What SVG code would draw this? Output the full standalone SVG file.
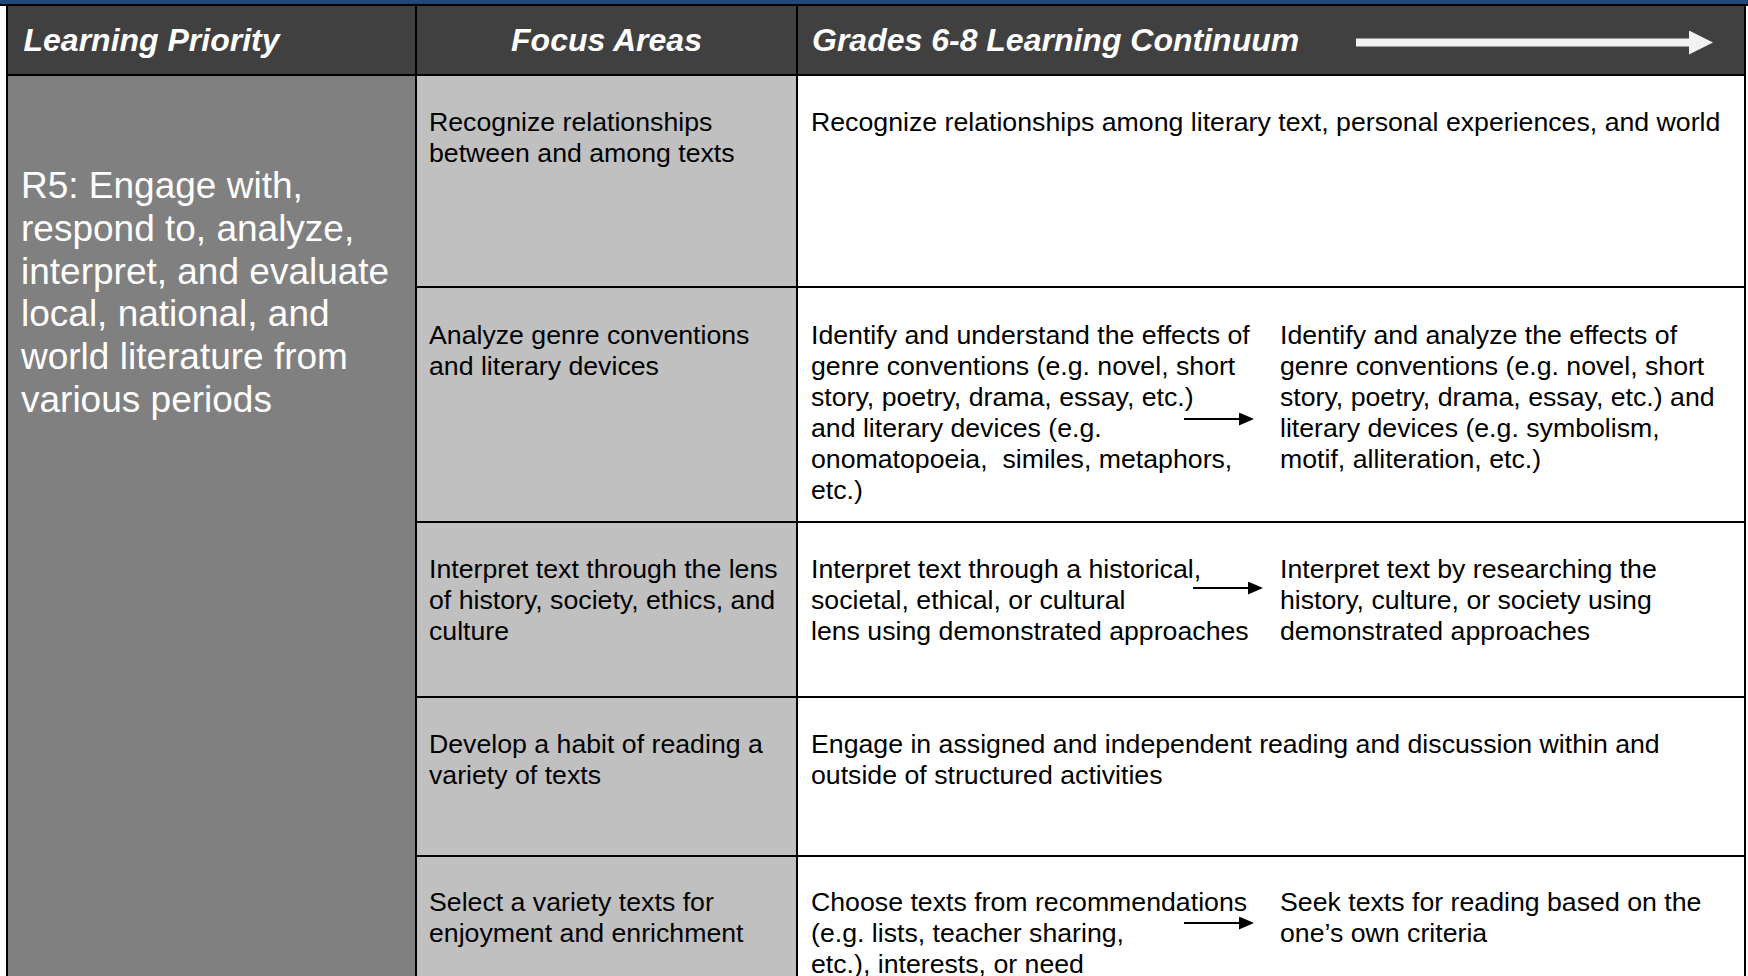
<svg xmlns="http://www.w3.org/2000/svg" width="1748" height="976" viewBox="0 0 1748 976">
<style>
  .hdr { font-family: "Liberation Sans", Arial, sans-serif; font-size: 32px; font-weight: bold; font-style: italic; fill: #FFFFFF; }
  .lp { font-family: "Liberation Sans", Arial, sans-serif; font-size: 37px; fill: #FFFFFF; }
  .body { font-family: "Liberation Sans", Arial, sans-serif; font-size: 26.7px; fill: #000000; }
  .grid { stroke: #000000; stroke-width: 2; fill: none; }
  .conn { stroke: #000000; stroke-width: 2; fill: none; }
  .hconn { stroke: #F2F2F2; stroke-width: 8; fill: none; }
</style>
<defs>
  <marker id="ah" markerUnits="userSpaceOnUse" markerWidth="16" markerHeight="14" refX="0" refY="6.5" orient="auto">
    <path d="M0,0 L15,6.5 L0,13 Z" fill="#000000"/>
  </marker>
  <marker id="ahw" markerUnits="userSpaceOnUse" markerWidth="26" markerHeight="26" refX="0" refY="12" orient="auto">
    <path d="M0,0 L24,12 L0,24 Z" fill="#F2F2F2"/>
  </marker>
</defs>
<rect x="0" y="0" width="1748" height="976" fill="#FFFFFF"/>
<rect x="0" y="0" width="1748" height="5" fill="#1F497D"/>

<g id="header">
  <rect x="7" y="5" width="1738" height="70" fill="#404040"/>
  <text class="hdr" x="23.5" y="51">Learning Priority</text>
  <text class="hdr" x="606.5" y="51" text-anchor="middle">Focus Areas</text>
  <text class="hdr" x="812" y="51">Grades 6-8 Learning Continuum</text>
</g>

<g id="priority">
  <rect x="7" y="75" width="409" height="901" fill="#808080"/>
  <text class="lp">
    <tspan x="21" y="197.5">R5: Engage with,</tspan>
    <tspan x="21" y="240.5">respond to, analyze,</tspan>
    <tspan x="21" y="283.5">interpret, and evaluate</tspan>
    <tspan x="21" y="326">local, national, and</tspan>
    <tspan x="21" y="369">world literature from</tspan>
    <tspan x="21" y="411.5">various periods</tspan>
  </text>
</g>

<g id="focus-col">
  <rect x="416" y="75" width="381" height="901" fill="#C0C0C0"/>
</g>

<g id="row1">
  <text class="body"><tspan x="429" y="131">Recognize relationships</tspan><tspan x="429" y="162">between and among texts</tspan></text>
  <text class="body" x="811" y="131">Recognize relationships among literary text, personal experiences, and world</text>
</g>

<g id="row2">
  <text class="body"><tspan x="429" y="344">Analyze genre conventions</tspan><tspan x="429" y="375">and literary devices</tspan></text>
  <text class="body" xml:space="preserve"><tspan x="811" y="344">Identify and understand the effects of</tspan><tspan x="811" y="375">genre conventions (e.g. novel, short</tspan><tspan x="811" y="406">story, poetry, drama, essay, etc.)</tspan><tspan x="811" y="437">and literary devices (e.g.</tspan><tspan x="811" y="468">onomatopoeia,  similes, metaphors,</tspan><tspan x="811" y="499">etc.)</tspan></text>
  <text class="body"><tspan x="1280" y="344">Identify and analyze the effects of</tspan><tspan x="1280" y="375">genre conventions (e.g. novel, short</tspan><tspan x="1280" y="406">story, poetry, drama, essay, etc.) and</tspan><tspan x="1280" y="437">literary devices (e.g. symbolism,</tspan><tspan x="1280" y="468">motif, alliteration, etc.)</tspan></text>
</g>

<g id="row3">
  <text class="body"><tspan x="429" y="578">Interpret text through the lens</tspan><tspan x="429" y="609">of history, society, ethics, and</tspan><tspan x="429" y="640">culture</tspan></text>
  <text class="body"><tspan x="811" y="578">Interpret text through a historical,</tspan><tspan x="811" y="609">societal, ethical, or cultural</tspan><tspan x="811" y="640">lens using demonstrated approaches</tspan></text>
  <text class="body"><tspan x="1280" y="578">Interpret text by researching the</tspan><tspan x="1280" y="609">history, culture, or society using</tspan><tspan x="1280" y="640">demonstrated approaches</tspan></text>
</g>

<g id="row4">
  <text class="body"><tspan x="429" y="753">Develop a habit of reading a</tspan><tspan x="429" y="784">variety of texts</tspan></text>
  <text class="body"><tspan x="811" y="753">Engage in assigned and independent reading and discussion within and</tspan><tspan x="811" y="784">outside of structured activities</tspan></text>
</g>

<g id="row5">
  <text class="body"><tspan x="429" y="911">Select a variety texts for</tspan><tspan x="429" y="942">enjoyment and enrichment</tspan></text>
  <text class="body"><tspan x="811" y="911">Choose texts from recommendations</tspan><tspan x="811" y="942">(e.g. lists, teacher sharing,</tspan><tspan x="811" y="973">etc.), interests, or need</tspan></text>
  <text class="body"><tspan x="1280" y="911">Seek texts for reading based on the</tspan><tspan x="1280" y="942">one’s own criteria</tspan></text>
</g>

<g id="gridlines">
  <line class="grid" x1="0" y1="5" x2="1748" y2="5"/>
  <line class="grid" x1="7" y1="75" x2="1745" y2="75"/>
  <line class="grid" x1="7" y1="5" x2="7" y2="976"/>
  <line class="grid" x1="416" y1="5" x2="416" y2="976"/>
  <line class="grid" x1="797" y1="5" x2="797" y2="976"/>
  <line class="grid" x1="1745" y1="5" x2="1745" y2="976"/>
  <line class="grid" x1="416" y1="287" x2="1745" y2="287"/>
  <line class="grid" x1="416" y1="522" x2="1745" y2="522"/>
  <line class="grid" x1="416" y1="697" x2="1745" y2="697"/>
  <line class="grid" x1="416" y1="856" x2="1745" y2="856"/>
</g>

<g id="connectors">
  <line class="hconn" x1="1356" y1="42.5" x2="1689" y2="42.5" marker-end="url(#ahw)"/>
  <line class="conn" x1="1184" y1="419" x2="1239" y2="419" marker-end="url(#ah)"/>
  <line class="conn" x1="1193" y1="588" x2="1248" y2="588" marker-end="url(#ah)"/>
  <line class="conn" x1="1184" y1="923" x2="1239" y2="923" marker-end="url(#ah)"/>
</g>
</svg>
